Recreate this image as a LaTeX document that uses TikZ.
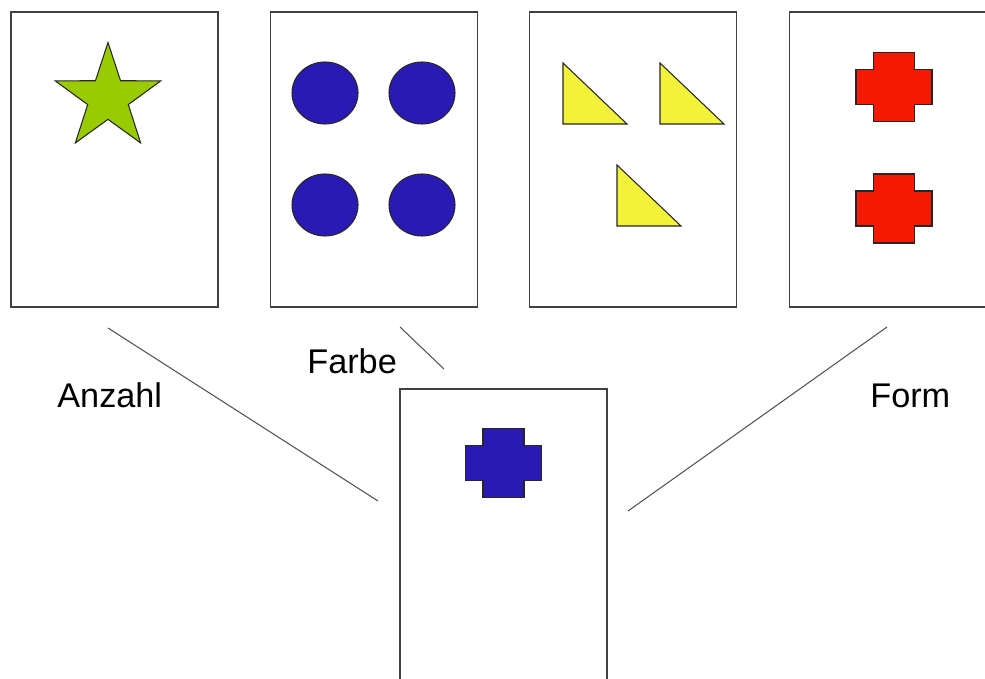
\documentclass[tikz,border=0pt]{standalone}
\usepackage{fontspec}
\setmainfont{Liberation Sans}
\usepackage{xcolor}
\definecolor{Sterngruen}{HTML}{99CC00}
\definecolor{Kreisblau}{HTML}{2A1AB4}
\definecolor{Dreieckgelb}{HTML}{F2F23A}
\definecolor{Kreuzrot}{HTML}{F41A00}
\definecolor{Rand}{HTML}{404040}
\usepackage{tikz}
\usetikzlibrary{shapes.geometric}

\begin{document}
\begin{tikzpicture}[x=0.02cm, y=-0.02cm,
    karte/.style={draw=Rand, line width=0.9pt, fill=white, minimum width=4.14cm, minimum height=5.9cm, inner sep=0pt},
    verbinder/.style={draw=Rand!90, line width=0.6pt},
    figur/.style={draw=black!85, line width=0.6pt},
    beschriftung/.style={font=\fontsize{19.5}{23}\selectfont, inner sep=0pt, anchor=base west},
    kreuz/.pic={\path[pic actions] (-20.5,-34.5) -- (20.5,-34.5) -- (20.5,-17.5) -- (38,-17.5) -- (38,17.5) -- (20.5,17.5)
        -- (20.5,34.5) -- (-20.5,34.5) -- (-20.5,17.5) -- (-38,17.5) -- (-38,-17.5) -- (-20.5,-17.5) -- cycle;},
    dreieck/.pic={\path[pic actions] (0,0) -- (0,61) -- (64,61) -- cycle;}]
  \useasboundingbox[fill=white] (0,0) rectangle (985,679);

  % obere Karten
  \node[karte] (k1) at (114.5,159.5) {};
  \node[karte] (k2) at (374,159.5) {};
  \node[karte] (k3) at (633,159.5) {};
  \node[karte] (k4) at (893,159.5) {};
  % Zielkarte
  \node[karte] (ziel) at (503.5,536.5) {};

  % Karte 1: ein Stern
  \node[figur, fill=Sterngruen, star, star points=5, star point ratio=2.6, minimum size=2.22cm, inner sep=0pt] (stern) at (108,98) {};
  % Karte 2: vier Kreise
  \foreach \x in {325,422}
    \foreach \y in {93,205}
      \draw[figur, fill=Kreisblau] (\x,\y) ellipse [x radius=33, y radius=31];
  % Karte 3: drei Dreiecke
  \pic[figur, fill=Dreieckgelb] at (563,63) {dreieck};
  \pic[figur, fill=Dreieckgelb] at (660,63) {dreieck};
  \pic[figur, fill=Dreieckgelb] at (617,165) {dreieck};
  % Karte 4: zwei Kreuze
  \pic[figur, fill=Kreuzrot] at (894,87) {kreuz};
  \pic[figur, fill=Kreuzrot] at (894,208.5) {kreuz};
  % Zielkarte: ein Kreuz
  \pic[figur, fill=Kreisblau] at (503.5,463) {kreuz};

  % Zuordnungen
  \coordinate (a1) at (108,328);
  \coordinate (a2) at (378,501);
  \coordinate (f1) at (400,327);
  \coordinate (f2) at (444,369);
  \coordinate (m1) at (887,327);
  \coordinate (m2) at (628,511);
  \draw[verbinder] (a1) -- (a2);
  \draw[verbinder] (f1) -- (f2);
  \draw[verbinder] (m1) -- (m2);

  \node[beschriftung] (anzahl) at (57,407) {Anzahl};
  \node[beschriftung] (farbe) at (307,374) {Farbe};
  \node[beschriftung] (form) at (870,407) {Form};
\end{tikzpicture}
\end{document}
